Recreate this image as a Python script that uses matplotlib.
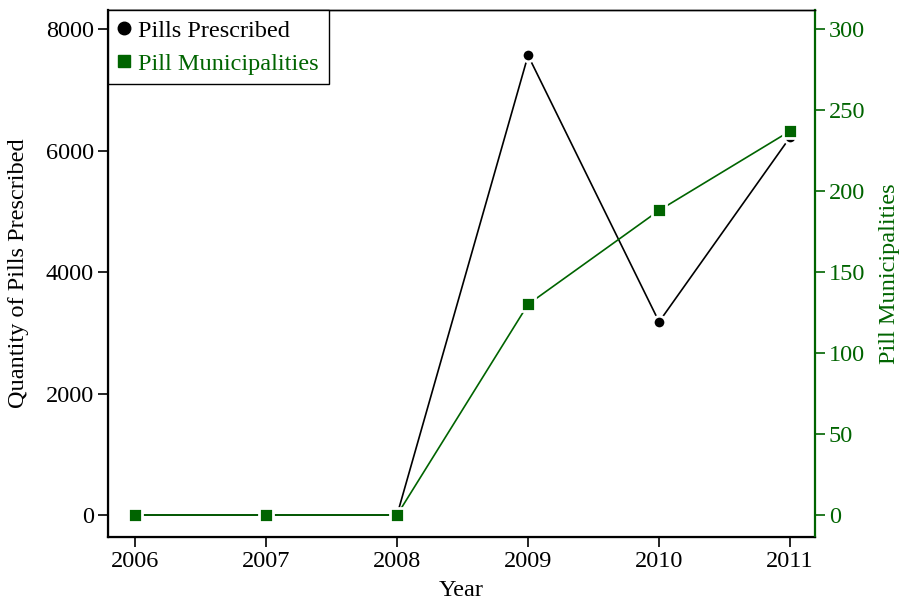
import matplotlib
matplotlib.use("Agg")
import matplotlib.pyplot as plt
from matplotlib.lines import Line2D

plt.rcParams['font.family'] = ['Liberation Serif', 'DejaVu Serif']
plt.rcParams['mathtext.fontset'] = 'stix'

years = [2006, 2007, 2008, 2009, 2010, 2011]
pills_prescribed = [0, 0, 0, 7565, 3180, 6220]
pill_municipalities = [0, 0, 0, 130, 188, 237]

green = '#006400'
fs = 17.5

fig = plt.figure(figsize=(9.01, 6.0), dpi=100)
ax = fig.add_axes([108 / 901, 63 / 600, 707 / 901, 527 / 600])
ax2 = ax.twinx()

ax.plot(years, pills_prescribed, color='black', lw=1.2, marker='o', ms=9,
        mfc='black', mec='white', mew=2.0, zorder=3)
ax2.plot(years, pill_municipalities, color=green, lw=1.2, marker='s', ms=9.5,
         mfc=green, mec='white', mew=2.0, zorder=3)

ax.set_xlim(2005.794, 2011.19)
ax.set_ylim(-362, 8313)
ax2.set_ylim(-13.6, 311.7)

ax.set_xticks(years)
ax.set_yticks([0, 2000, 4000, 6000, 8000])
ax2.set_yticks([0, 50, 100, 150, 200, 250, 300])

ax.tick_params(axis='both', direction='out', length=7, width=1.2,
               labelsize=fs, colors='black', pad=3)
ax2.tick_params(axis='y', direction='out', length=7, width=1.2,
                labelsize=fs, colors=green, pad=3)

for s in ['left', 'bottom']:
    ax.spines[s].set_linewidth(1.6)
ax.spines['top'].set_linewidth(1.0)
ax2.spines['top'].set_linewidth(1.0)
ax2.spines['right'].set_color(green)
ax2.spines['right'].set_linewidth(1.6)
ax.spines['right'].set_visible(False)

ax.set_xlabel('Year', fontsize=fs, labelpad=6)
ax.set_ylabel('Quantity of Pills Prescribed', fontsize=fs, labelpad=12)
ax2.set_ylabel('Pill Municipalities', fontsize=fs, color=green, labelpad=10)

handles = [
    Line2D([], [], ls='none', marker='o', ms=9, mfc='black', mec='black'),
    Line2D([], [], ls='none', marker='s', ms=9, mfc=green, mec=green),
]
leg = ax2.legend(handles, ['Pills Prescribed', 'Pill Municipalities'],
                 loc='upper left', bbox_to_anchor=(0, 1), fontsize=17.5,
                 frameon=True, fancybox=False, framealpha=1,
                 edgecolor='black', handlelength=0.5, handletextpad=0.35,
                 borderpad=0.4, borderaxespad=0, labelspacing=0.45)
leg.get_frame().set_linewidth(1.0)
leg.get_texts()[1].set_color(green)

fig.savefig('out.png', dpi=100)
